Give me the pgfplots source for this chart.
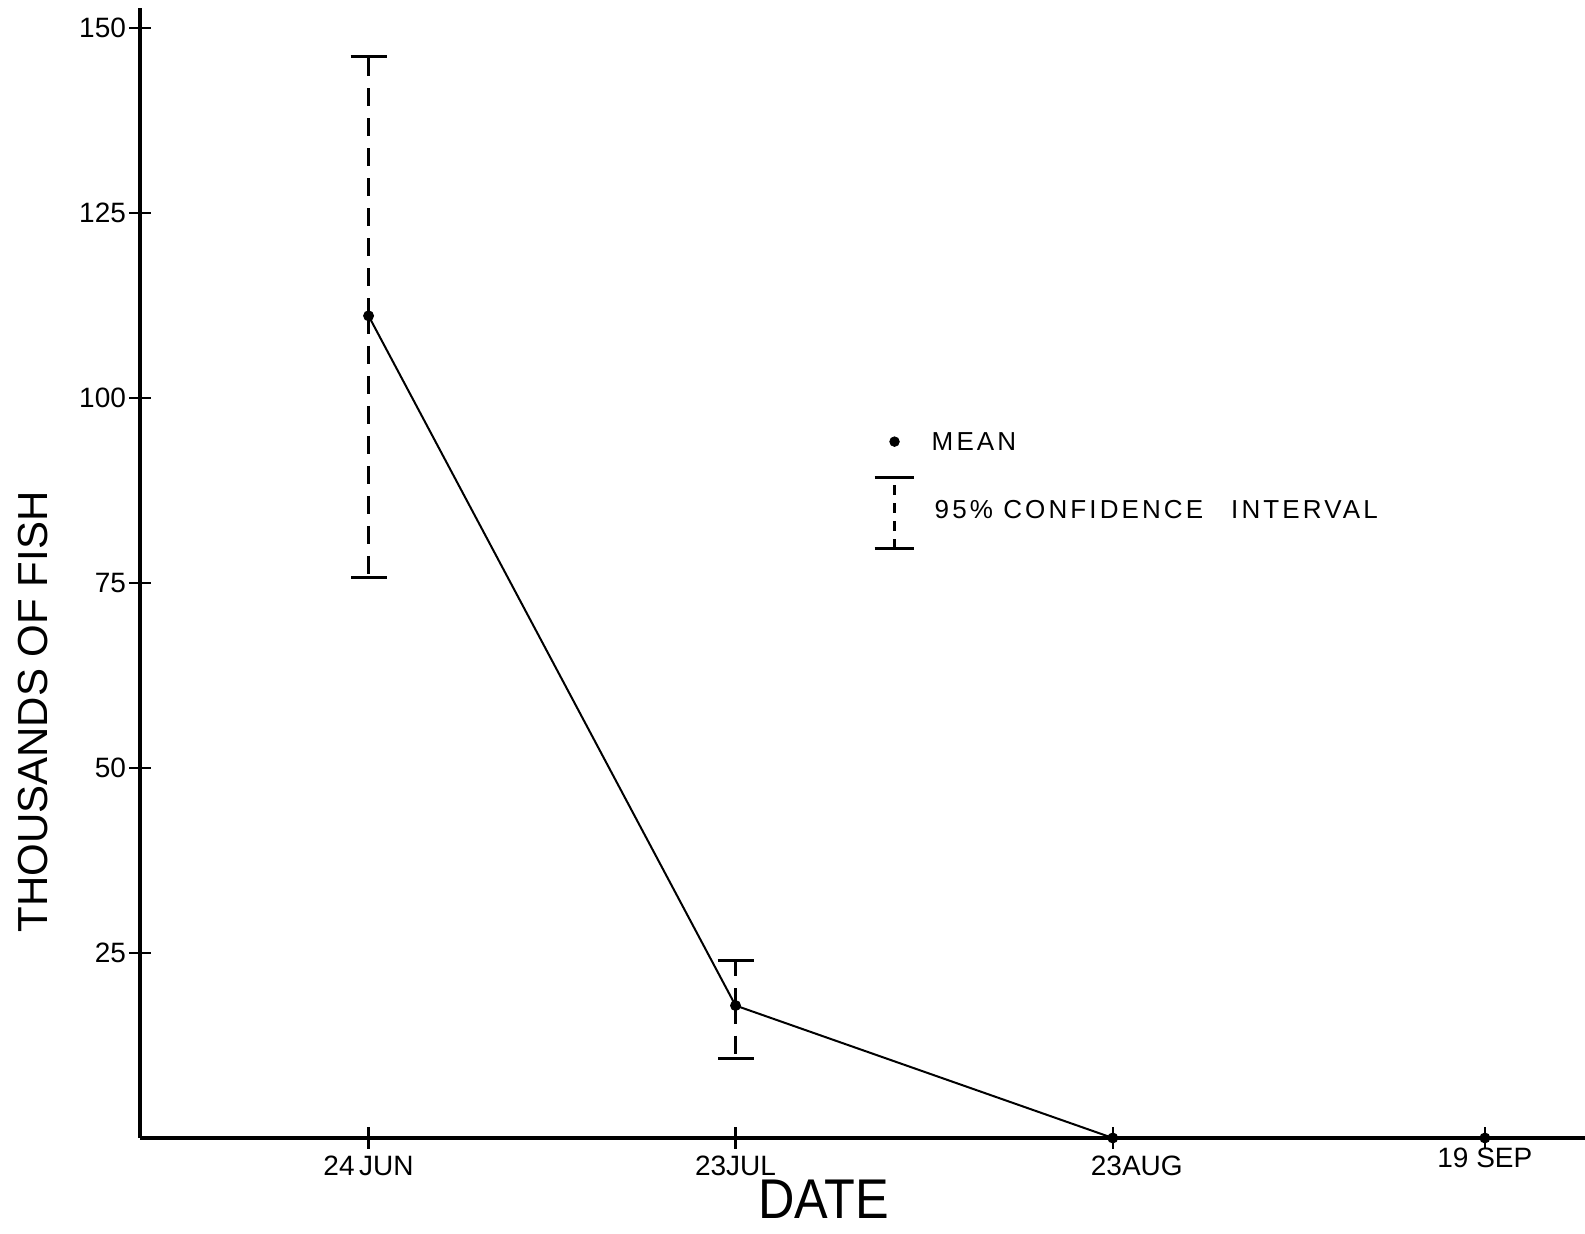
\documentclass[border=0pt]{standalone}
\usepackage{pgfplots}
\pgfplotsset{compat=1.18}
\usepackage{graphicx}
\usepackage{fontspec}
\setmainfont{Liberation Sans}
\newfontfamily\legfont[LetterSpace=12]{Liberation Sans}
\begin{document}
\begin{tikzpicture}
\begin{axis}[
  scale only axis, width=722.5pt, height=565pt,
  xmin=-0.621, xmax=3.305, ymin=0, ymax=152.7,
  axis lines=left, axis line style={-, line width=1.6pt},
  clip=false,
  xtick={0,0.997,2.022,3.033},
  xticklabels={24\,JUN,23JUL,\hspace*{24pt}23AUG,\raisebox{4pt}[\height][\depth]{19 SEP}},
  ytick={25,50,75,100,125,150},
  tick align=center, major tick length=11pt, tick style={line width=1.2pt, black},
  /pgf/number format/assume math mode=true,
  ticklabel style={font=\fontsize{14}{16}\selectfont},
  yticklabel style={xshift=2pt},
  xlabel={\scalebox{0.9}[1.0]{DATE}}, ylabel={THOUSANDS OF FISH},
  xlabel style={at={(rel axis cs:0.473,-0.0715)}, anchor=base, inner sep=0pt, font=\fontsize{28}{30}\selectfont},
  ylabel style={at={(rel axis cs:-0.074,0.377)}, anchor=center, font=\fontsize{21}{24}\selectfont},
]
% mean line
\addplot[black, line width=1pt, mark=*, mark size=2.2pt, mark options={solid, fill=black}] table {
x y
0 111.1
0.997 17.9
2.022 0
3.033 0
};
% 95% confidence intervals
\addplot[black, only marks, mark=*, mark size=2.2pt,
  error bars/.cd, y dir=both, y explicit, error mark=-,
  error bar style={line width=1.5pt, dash pattern=on 9pt off 6pt},
  error mark options={solid, rotate=90, line width=1.5pt, mark size=9pt}]
  table[x=x, y=y, y error plus=ep, y error minus=em] {
x y ep em
0 111.1 35.0 35.4
0.997 17.9 6.1 7.1
};
% legend symbols
\addplot[black, only marks, mark=*, mark size=2.4pt] coordinates {(1.429,94.1)};
\addplot[black, line width=1.5pt, dash pattern=on 5pt off 4pt] coordinates {(1.429,79.6) (1.429,89.3)};
\addplot[black, line width=1.5pt] coordinates {(1.375,89.3) (1.483,89.3)};
\addplot[black, line width=1.5pt] coordinates {(1.375,79.6) (1.483,79.6)};
\node[anchor=west, font=\legfont\fontsize{13}{15}\selectfont, inner sep=0pt] at (axis cs:1.529,94.1) {MEAN};
\node[anchor=west, font=\legfont\fontsize{13}{15}\selectfont, inner sep=0pt] at (axis cs:1.537,84.9) {95\% CONFIDENCE\hspace{14pt}INTERVAL};
\coordinate (bbll) at (rel axis cs:-0.0969,-0.0841);
\coordinate (bbur) at (rel axis cs:1,1.00708);
\end{axis}
\pgfresetboundingbox
\path[use as bounding box] (bbll) rectangle (bbur);
\end{tikzpicture}
\end{document}
